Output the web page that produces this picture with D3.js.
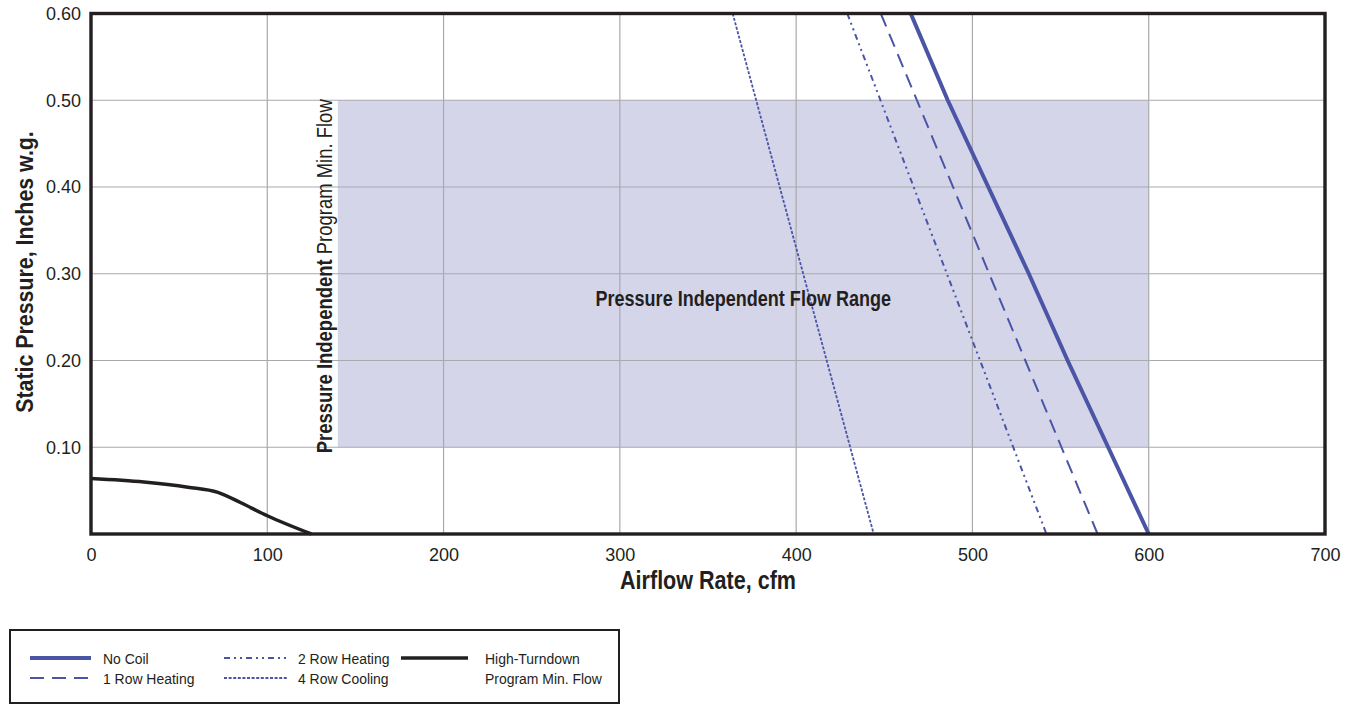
<!DOCTYPE html>
<html>
<head>
<meta charset="utf-8">
<script src="https://cdn.jsdelivr.net/npm/d3@7"></script>
<style>
  html, body { margin: 0; padding: 0; background: #fff; }
  svg { display: block; }
</style>
</head>
<body>
<svg id="chart" width="1360" height="705"></svg>
<script>
// ---- data ----
const xTicks = [0, 100, 200, 300, 400, 500, 600, 700];
const yTicks = [0.10, 0.20, 0.30, 0.40, 0.50, 0.60];
const rangeX = [140, 600];
const rangeY = [0.10, 0.50];

const noCoilX = [465, 486, 509, 532, 554, 577, 600];
const noCoilY = [0.60, 0.50, 0.40, 0.30, 0.20, 0.10, 0.00];
const row1X = [448, 571];
const row1Y = [0.60, 0.00];
const row2X = [429, 542];
const row2Y = [0.60, 0.00];
const row4X = [364, 444];
const row4Y = [0.60, 0.00];
const turnX = [0, 30, 55, 72, 85, 100, 125];
const turnY = [0.064, 0.060, 0.054, 0.048, 0.036, 0.021, 0.000];

const legendItems = [
  { name: "No Coil", key: "noCoil" },
  { name: "1 Row Heating", key: "row1" },
  { name: "2 Row Heating", key: "row2" },
  { name: "4 Row Cooling", key: "row4" },
  { name: "High-Turndown", key: "turn" }
];

// ---- styles ----
const blue = "#4a55a6";
const ink = "#231f20";
const styles = {
  noCoil: { color: blue, width: 4, dash: null },
  row1:   { color: blue, width: 2, dash: "14,8" },
  row2:   { color: blue, width: 2, dash: "6,4,2,4,2,4" },
  row4:   { color: blue, width: 1.8, dash: "3,1.6" },
  turn:   { color: ink, width: 3.5, dash: null }
};

const svg = d3.select("#chart");
const L = 91, R = 1325, T = 13.5, B = 534;
const x = d3.scaleLinear().domain([0, 700]).range([L, R]);
const y = d3.scaleLinear().domain([0, 0.6]).range([B, T]);

const font = "'Liberation Sans', Arial, sans-serif";

// condensed text helper (horizontal squeeze along the text direction)
function ctext(parent, tx, ty, rot, sx, size, weight, anchor, str) {
  return parent.append("text")
    .attr("transform", `translate(${tx},${ty}) rotate(${rot}) scale(${sx},1)`)
    .attr("x", 0).attr("y", 0)
    .attr("text-anchor", anchor)
    .attr("font-family", font).attr("font-size", size)
    .attr("font-weight", weight).attr("fill", ink)
    .text(str);
}

// shaded range
svg.append("rect")
  .attr("x", x(rangeX[0])).attr("y", y(rangeY[1]))
  .attr("width", x(rangeX[1]) - x(rangeX[0]))
  .attr("height", y(rangeY[0]) - y(rangeY[1]))
  .attr("fill", "#d4d5e9");

// grid
const grid = svg.append("g").attr("stroke", "#a9a9ae").attr("stroke-width", 1.2);
xTicks.filter(d => d > 0 && d < 700).forEach(d => {
  grid.append("line").attr("x1", x(d)).attr("x2", x(d)).attr("y1", y(0)).attr("y2", y(0.6));
});
yTicks.filter(d => d < 0.6).forEach(d => {
  grid.append("line").attr("x1", x(0)).attr("x2", x(700)).attr("y1", y(d)).attr("y2", y(d));
});

// axes (labels via d3 axes)
const xAxis = svg.append("g").attr("transform", `translate(0,${B})`)
  .call(d3.axisBottom(x).tickValues(xTicks).tickSize(0).tickPadding(14).tickFormat(d3.format("d")));
xAxis.select(".domain").remove();
xAxis.selectAll("text").attr("font-family", font).attr("font-size", 18).attr("fill", ink);

const yAxis = svg.append("g").attr("transform", `translate(${L},0)`)
  .call(d3.axisLeft(y).tickValues(yTicks).tickSize(0).tickPadding(10).tickFormat(d3.format(".2f")));
yAxis.select(".domain").remove();
yAxis.selectAll("text").attr("font-family", font).attr("font-size", 18).attr("fill", ink);

// series
const line = d3.line().x(d => x(d[0])).y(d => y(d[1]));
const curve = d3.line().x(d => x(d[0])).y(d => y(d[1])).curve(d3.curveMonotoneX);
function zip(a, b) { return a.map((v, i) => [v, b[i]]); }
const series = [
  { key: "row4", pts: zip(row4X, row4Y), gen: line },
  { key: "row2", pts: zip(row2X, row2Y), gen: line },
  { key: "row1", pts: zip(row1X, row1Y), gen: line },
  { key: "noCoil", pts: zip(noCoilX, noCoilY), gen: line },
  { key: "turn", pts: zip(turnX, turnY), gen: curve }
];
series.forEach(s => {
  const st = styles[s.key];
  svg.append("path").attr("d", s.gen(s.pts))
    .attr("fill", "none").attr("stroke", st.color)
    .attr("stroke-width", st.width)
    .attr("stroke-dasharray", st.dash)
    .attr("stroke-linejoin", "round");
});

// frame
svg.append("rect").attr("x", L).attr("y", T).attr("width", R - L).attr("height", B - T)
  .attr("fill", "none").attr("stroke", ink).attr("stroke-width", 3.4);

// annotations
ctext(svg, x((rangeX[0] + rangeX[1]) / 2), y(0.3) + 32, 0, 0.82, 22, "bold", "middle",
  "Pressure Independent Flow Range");

const rot = svg.append("text")
  .attr("transform", `translate(${x(rangeX[0]) - 6},${y(rangeY[0]) + 6}) rotate(-90) scale(0.84,1)`)
  .attr("font-family", font).attr("font-size", 22).attr("fill", ink);
rot.append("tspan").attr("font-weight", "bold").text("Pressure Independent ");
rot.append("tspan").attr("font-weight", "normal").text("Program Min. Flow");

// axis titles
ctext(svg, (L + R) / 2, 589, 0, 0.862, 25, "bold", "middle", "Airflow Rate, cfm");
ctext(svg, 33, 272, -90, 0.89, 24, "bold", "middle", "Static Pressure, Inches w.g.");

// legend
const lg = svg.append("g");
lg.append("rect").attr("x", 10).attr("y", 630).attr("width", 609).attr("height", 73)
  .attr("fill", "#fff").attr("stroke", ink).attr("stroke-width", 2);
const legPos = [
  { lx: 30, len: 61, tx: 103, y: 658 },
  { lx: 30, len: 61, tx: 103, y: 678 },
  { lx: 224, len: 63, tx: 298, y: 658 },
  { lx: 224, len: 63, tx: 298, y: 678 },
  { lx: 401, len: 67, tx: 485, y: 658 }
];
legendItems.forEach((it, i) => {
  const st = styles[it.key];
  const p = legPos[i];
  lg.append("line").attr("x1", p.lx).attr("x2", p.lx + p.len).attr("y1", p.y).attr("y2", p.y)
    .attr("stroke", st.color).attr("stroke-width", st.width).attr("stroke-dasharray", st.dash);
  ctext(lg, p.tx, p.y + 5.5, 0, 0.93, 15, "normal", "start", it.name);
});
ctext(lg, 485, 683.5, 0, 0.93, 15, "normal", "start", "Program Min. Flow");
</script>
</body>
</html>
